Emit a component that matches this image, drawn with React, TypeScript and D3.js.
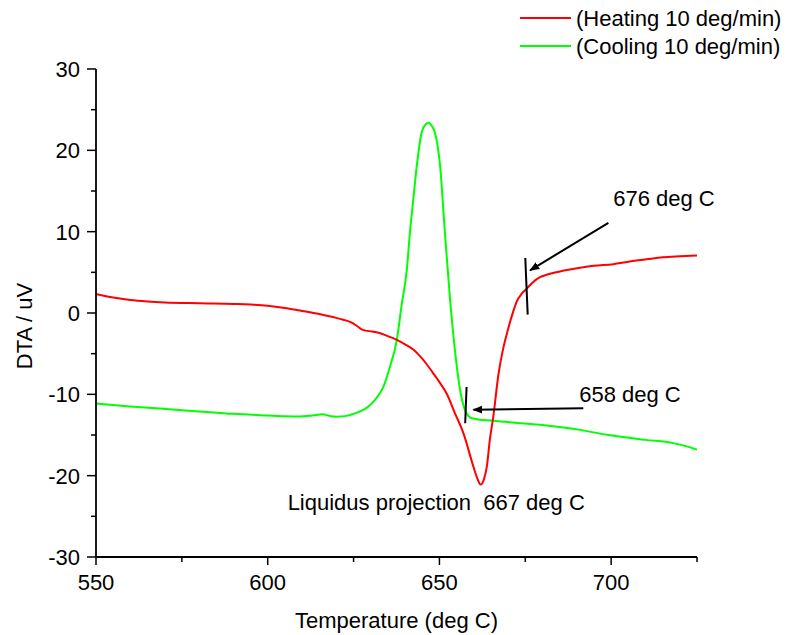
import React from "react";
import * as d3 from "d3";

// DTA traces: temperature (deg C) and signal (uV)
const heatingT = [550, 555, 560, 565, 570, 580, 590, 595, 600, 605, 609.4, 615, 619, 622, 624, 626, 627.5, 629, 632, 635, 637.6, 640, 642.4, 644, 646.3, 648, 650.2, 652.1, 654.5, 657, 659.9, 661, 662, 663, 663.8, 664.7, 665.7, 667.2, 668.5, 669.6, 671.5, 672.5, 674, 675.4, 677, 679.3, 681.2, 685.1, 691, 695, 700.6, 705, 710.3, 715, 720, 725];
const heatingV = [2.34, 1.9, 1.6, 1.42, 1.3, 1.2, 1.12, 1.05, 0.9, 0.62, 0.3, -0.12, -0.5, -0.82, -1.1, -1.6, -2.05, -2.2, -2.4, -2.85, -3.3, -3.85, -4.5, -5.15, -6.3, -7.3, -8.62, -9.9, -12.3, -14.8, -18.9, -20.3, -21.1, -20.4, -18.9, -15.5, -12.7, -7.5, -4.5, -2.6, 0.2, 1.4, 2.4, 3.0, 3.7, 4.4, 4.7, 5.1, 5.55, 5.8, 6.0, 6.3, 6.6, 6.85, 6.97, 7.06];

const coolingT = [550, 560, 568.6, 580, 590, 600, 605, 609.4, 613, 616, 618, 620, 623, 625, 626.9, 629, 630.8, 632.7, 633.7, 635.6, 637.6, 639, 640.5, 641.4, 642.4, 643.4, 644.8, 645.8, 646.8, 647.8, 648.7, 650.2, 651.6, 653.1, 654.5, 656, 657.4, 658.5, 659.4, 665.7, 679.3, 691, 698.7, 710, 718.1, 722, 725];
const coolingV = [-11.13, -11.5, -11.75, -12.1, -12.4, -12.6, -12.7, -12.73, -12.6, -12.45, -12.65, -12.75, -12.65, -12.4, -12.1, -11.6, -10.9, -9.85, -9.04, -6.6, -3.3, 1.0, 5.3, 9.85, 14.0, 18.05, 22.17, 23.1, 23.4, 23.0, 22.17, 18.05, 9.85, 1.64, -4.52, -9.44, -11.9, -12.7, -12.93, -13.26, -13.75, -14.37, -14.98, -15.6, -16.0, -16.4, -16.8];

const seriesNames = ["(Heating 10 deg/min)", "(Cooling 10 deg/min)"];
const seriesColors = ["#ff0000", "#00ff00"];

const xMajorTicks = [550, 600, 650, 700];
const xMinorTicks = [575, 625, 675, 725];
const yMajorTicks = [-30, -20, -10, 0, 10, 20, 30];
const yMinorTicks = [-25, -15, -5, 5, 15, 25];

// onset markers: short strokes across the curves, in data units
const markerTop = [[675.0, 6.77], [657.9, -9.1]];
const markerBottom = [[675.7, -0.2], [657.5, -13.55]];
// arrows pointing at the markers
const arrowFrom = [[699.2, 11.08], [691.9, -11.7]];
const arrowTo = [[676.4, 5.25], [659.9, -11.9]];
const arrowLabels = ["676 deg C", "658 deg C"];
const arrowLabelAt = [[700.6, 13.1], [690.7, -10.95]];

const liquidusLabel = "Liquidus projection  667 deg C";
const liquidusAt = [605.8, -24.2];

const FONT = "'Liberation Sans', Arial, Helvetica, sans-serif";

export default function App() {
  const W = 800;
  const H = 635;
  const x = d3.scaleLinear().domain([550, 725]).range([96, 697]);
  const y = d3.scaleLinear().domain([-30, 30]).range([557, 69]);

  const line = d3
    .line<[number, number]>()
    .x((d) => x(d[0]))
    .y((d) => y(d[1]))
    .curve(d3.curveMonotoneX);

  const heating = heatingT.map((t, i) => [t, heatingV[i]] as [number, number]);
  const cooling = coolingT.map((t, i) => [t, coolingV[i]] as [number, number]);

  const x0 = x(550);
  const y0 = y(-30);
  const fs = 22;

  return (
    <div style={{ position: "fixed", left: 0, top: 0, width: W, height: H, background: "#fff" }}>
      <svg width={W} height={H} viewBox={`0 0 ${W} ${H}`} style={{ display: "block" }} fontFamily={FONT}>
        <defs>
          <marker id="arrowHead" viewBox="0 0 10 10" refX="9" refY="5" markerWidth="5" markerHeight="5" orient="auto" markerUnits="strokeWidth">
            <path d="M0,1 L10,5 L0,9 Z" fill="#000" />
          </marker>
        </defs>

        {/* data curves */}
        <path d={line(cooling) || ""} fill="none" stroke={seriesColors[1]} strokeWidth={2} />
        <path d={line(heating) || ""} fill="none" stroke={seriesColors[0]} strokeWidth={2} />

        {/* axes */}
        <line x1={x0} x2={x(725)} y1={y0} y2={y0} stroke="#000" strokeWidth={1.8} />
        <line x1={x0} x2={x0} y1={y(30)} y2={y0} stroke="#000" strokeWidth={1.8} />
        {xMajorTicks.map((t) => (
          <g key={"xm" + t}>
            <line x1={x(t)} x2={x(t)} y1={y0} y2={y0 + 8} stroke="#000" strokeWidth={1.5} />
            <text x={x(t)} y={590} textAnchor="middle" fontSize={fs}>
              {t}
            </text>
          </g>
        ))}
        {xMinorTicks.map((t) => (
          <line key={"xn" + t} x1={x(t)} x2={x(t)} y1={y0} y2={y0 + 5} stroke="#000" strokeWidth={1.5} />
        ))}
        {yMajorTicks.map((v) => (
          <g key={"ym" + v}>
            <line x1={x0 - 9} x2={x0} y1={y(v)} y2={y(v)} stroke="#000" strokeWidth={1.5} />
            <text x={x0 - 16} y={y(v)} dy="0.36em" textAnchor="end" fontSize={fs}>
              {v}
            </text>
          </g>
        ))}
        {yMinorTicks.map((v) => (
          <line key={"yn" + v} x1={x0 - 5} x2={x0} y1={y(v)} y2={y(v)} stroke="#000" strokeWidth={1.5} />
        ))}

        {/* axis titles */}
        <text x={(x0 + x(725)) / 2} y={628} textAnchor="middle" fontSize={fs}>
          Temperature (deg C)
        </text>
        <text transform={`translate(32,326) rotate(-90)`} textAnchor="middle" fontSize={fs}>
          DTA / uV
        </text>

        {/* onset markers and arrows */}
        {markerTop.map((p, i) => (
          <line
            key={"mk" + i}
            x1={x(p[0])}
            y1={y(p[1])}
            x2={x(markerBottom[i][0])}
            y2={y(markerBottom[i][1])}
            stroke="#000"
            strokeWidth={2}
          />
        ))}
        {arrowFrom.map((p, i) => (
          <g key={"ar" + i}>
            <line
              x1={x(p[0])}
              y1={y(p[1])}
              x2={x(arrowTo[i][0])}
              y2={y(arrowTo[i][1])}
              stroke="#000"
              strokeWidth={2}
              markerEnd="url(#arrowHead)"
            />
            <text x={x(arrowLabelAt[i][0])} y={y(arrowLabelAt[i][1])} fontSize={fs}>
              {arrowLabels[i]}
            </text>
          </g>
        ))}
        <text x={x(liquidusAt[0])} y={y(liquidusAt[1])} fontSize={fs} style={{ whiteSpace: "pre" }}>
          {liquidusLabel}
        </text>

        {/* legend */}
        {seriesNames.map((name, i) => (
          <g key={"lg" + i}>
            <line x1={520} x2={571} y1={18 + i * 28} y2={18 + i * 28} stroke={seriesColors[i]} strokeWidth={2} />
            <text x={576} y={18 + i * 28} dy="0.36em" fontSize={fs}>
              {name}
            </text>
          </g>
        ))}
      </svg>
    </div>
  );
}
